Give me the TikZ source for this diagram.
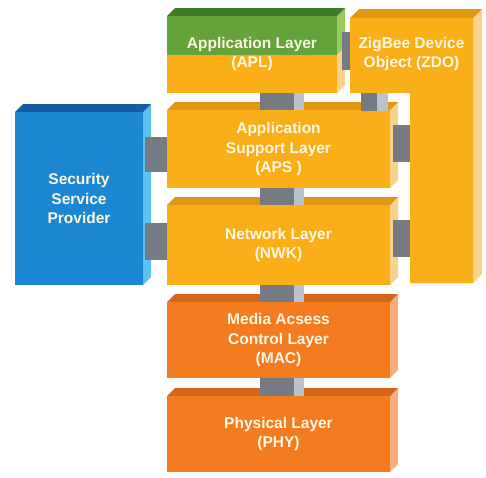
\documentclass[tikz,border=0pt]{standalone}
\usepackage{fontspec}
\setmainfont{Liberation Sans}
\definecolor{yelfront}{HTML}{FAAF19}
\definecolor{yeltop}{HTML}{E3960F}
\definecolor{yelside}{HTML}{FBD28A}
\definecolor{orgfront}{HTML}{F47C20}
\definecolor{orgtop}{HTML}{D5651B}
\definecolor{orgside}{HTML}{F8AE78}
\definecolor{grnfront}{HTML}{64A23A}
\definecolor{grntop}{HTML}{3D7B2D}
\definecolor{grnside}{HTML}{98CB58}
\definecolor{blufront}{HTML}{1B87D3}
\definecolor{blutop}{HTML}{165CA5}
\definecolor{bluside}{HTML}{5CC3F0}
\definecolor{gryfront}{HTML}{767B83}
\definecolor{gryside}{HTML}{BAC3CD}
\definecolor{txt}{RGB}{255,246,228}
\newcommand\layerbox[7]{%
  \fill[#6side] (#4,#3) -- ++(8,-8) -- (#4+8,#5-8) -- (#4,#5) -- cycle;
  \fill[#6top] (#2,#3) -- ++(8,-8) -- (#4+8,#3-8) -- (#4,#3) -- cycle;
  \fill[#6front] (#2,#3) rectangle (#4,#5);
  \node[lbl] (#1) at ({(#2+#4)/2},{(#3+#5)/2}) {#7};
}
\begin{document}
\begin{tikzpicture}[x=1pt,y=-1pt,
  lbl/.style={text=txt,font=\fontsize{15.5}{19.5}\selectfont\bfseries,align=center,inner sep=0pt}]
\useasboundingbox (0,0) rectangle (486,477);
% Security Service Provider
\layerbox{ssp}{15}{112}{143}{285}{blu}{Security\\Service\\Provider}
% Application layer (green over yellow)
\fill[grnside] (337,16) -- (345,8) -- (345,47) -- (337,55) -- cycle;
\fill[yelside] (337,55) -- (345,47) -- (345,85) -- (337,93) -- cycle;
\fill[grntop] (167,16) -- (175,8) -- (345,8) -- (337,16) -- cycle;
\fill[grnfront] (167,16) rectangle (337,55);
\fill[yelfront] (167,55) rectangle (337,93);
\node[lbl] (apl) at (252,54) {Application Layer\\(APL)};
% ZDO
\fill[yelside] (473,18) -- (482,9) -- (482,274) -- (473,283) -- cycle;
\fill[yeltop] (350,18) -- (359,9) -- (482,9) -- (473,18) -- cycle;
\fill[yelfront] (350,18) -- (473,18) -- (473,283) -- (410,283) -- (410,93) -- (350,93) -- cycle;
\node[lbl] (zdo) at (411.5,54) {ZigBee Device\\Object (ZDO)};
% stack
\layerbox{aps}{167}{110}{390}{188}{yel}{Application\\Support Layer\\(APS )}
\layerbox{nwk}{167}{205}{390}{285}{yel}{Network Layer\\(NWK)}
\layerbox{mac}{167}{302}{390}{378}{org}{Media Acsess\\Control Layer\\(MAC)}
\layerbox{phy}{167}{396}{390}{472}{org}{Physical Layer\\(PHY)}
% vertical connectors
\foreach \ya/\yb in {93/110,188/205,285/302,378/396}{
  \fill[gryfront] (260,\ya) rectangle (294,\yb);
  \fill[gryside] (294,\ya) rectangle (304,\yb);
}
\fill[gryfront] (361,93) rectangle (377,111);
\fill[gryside] (377,93) rectangle (388,111);
% horizontal connectors
\fill[gryfront] (342,32) rectangle (350,70);
\fill[gryfront] (393,125) rectangle (410,162);
\fill[gryfront] (393,220) rectangle (410,257);
\fill[gryfront] (145,137) rectangle (167,172);
\fill[gryfront] (145,223) rectangle (167,260);
\end{tikzpicture}
\end{document}
